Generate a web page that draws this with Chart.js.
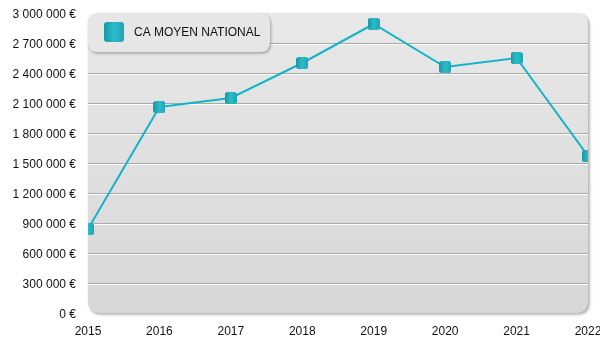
<!DOCTYPE html>
<html>
<head>
<meta charset="utf-8">
<script src="https://cdn.jsdelivr.net/npm/chart.js@4/dist/chart.umd.min.js"></script>
<style>
  html, body { margin: 0; padding: 0; background: #fff; }
  #wrap { width: 600px; height: 350px; }
</style>
</head>
<body>
<div id="wrap"><canvas id="caChart" width="600" height="350"></canvas></div>
<script>
var years = ['2015', '2016', '2017', '2018', '2019', '2020', '2021', '2022'];
var caMoyen = [840000, 2060000, 2150000, 2500000, 2890000, 2460000, 2550000, 1570000];
var seriesLabel = 'CA MOYEN NATIONAL';

const yMax = 3000000;
const yStep = 300000;

// "2 700 000 €"
function euros(v) {
    return String(Math.round(v)).replace(/\B(?=(\d{3})+(?!\d))/g, ' ') + ' €';
}

function roundRect(ctx, x, y, w, h, r) {
    ctx.beginPath();
    ctx.moveTo(x + r, y);
    ctx.lineTo(x + w - r, y);
    ctx.quadraticCurveTo(x + w, y, x + w, y + r);
    ctx.lineTo(x + w, y + h - r);
    ctx.quadraticCurveTo(x + w, y + h, x + w - r, y + h);
    ctx.lineTo(x + r, y + h);
    ctx.quadraticCurveTo(x, y + h, x, y + h - r);
    ctx.lineTo(x, y + r);
    ctx.quadraticCurveTo(x, y, x + r, y);
    ctx.closePath();
}

function tealFill(ctx, x, w) {
    var g = ctx.createLinearGradient(x, 0, x + w, 0);
    g.addColorStop(0, '#1797a6');
    g.addColorStop(0.5, '#2cbcc8');
    g.addColorStop(1, '#1ea5b2');
    return g;
}

// small rounded square used as point marker
function makeMarker(size) {
    var c = document.createElement('canvas');
    c.width = size; c.height = size;
    var ctx = c.getContext('2d');
    roundRect(ctx, 0, 0, size, size, 2.5);
    ctx.fillStyle = tealFill(ctx, 0, size);
    ctx.fill();
    return c;
}

// grey rounded panel behind the plot, with embossed grid lines
const panelPlugin = {
    id: 'panel',
    beforeDatasetsDraw(chart) {
        var ctx = chart.ctx;
        var a = chart.chartArea;
        var y = chart.scales.y;
        ctx.save();
        ctx.shadowColor = 'rgba(0,0,0,0.35)';
        ctx.shadowBlur = 3;
        ctx.shadowOffsetX = 1.5;
        ctx.shadowOffsetY = 1.5;
        roundRect(ctx, a.left, a.top, a.right - a.left, a.bottom - a.top, 12);
        var g = ctx.createLinearGradient(0, a.top, 0, a.bottom);
        g.addColorStop(0, '#e8e8e8');
        g.addColorStop(1, '#d7d7d7');
        ctx.fillStyle = g;
        ctx.fill();
        ctx.restore();

        ctx.save();
        y.ticks.forEach(function(t) {
            if (t.value <= y.min || t.value >= y.max) return;
            var py = Math.round(y.getPixelForValue(t.value));
            ctx.fillStyle = '#a9a9a9';
            ctx.fillRect(a.left, py, a.right - a.left, 1);
            ctx.fillStyle = '#ffffff';
            ctx.fillRect(a.left, py + 1, a.right - a.left, 1);
        });
        ctx.restore();
    },
    afterDraw(chart) {
        var ctx = chart.ctx;
        var a = chart.chartArea;
        var bx = a.left, by = a.top, bw = 182, bh = 39;
        ctx.save();
        ctx.shadowColor = 'rgba(0,0,0,0.3)';
        ctx.shadowBlur = 3;
        ctx.shadowOffsetX = 1;
        ctx.shadowOffsetY = 1.5;
        roundRect(ctx, bx, by, bw, bh, 10);
        ctx.fillStyle = '#e6e6e6';
        ctx.fill();
        ctx.restore();

        ctx.save();
        roundRect(ctx, bx + 16, by + 9, 20, 20, 3);
        ctx.fillStyle = tealFill(ctx, bx + 16, 20);
        ctx.fill();
        ctx.fillStyle = '#111';
        ctx.font = '12px "Liberation Sans", Arial, sans-serif';
        ctx.textBaseline = 'middle';
        ctx.fillText(chart.data.datasets[0].label, bx + 46, by + 20);
        ctx.restore();
    }
};

Chart.defaults.font.family = '"Liberation Sans", Arial, sans-serif';
Chart.defaults.font.size = 12;
Chart.defaults.color = '#111';

new Chart(document.getElementById('caChart'), {
    type: 'line',
    data: {
        labels: years,
        datasets: [{
            label: seriesLabel,
            data: caMoyen,
            borderColor: '#14b4c6',
            borderWidth: 2,
            pointStyle: makeMarker(12),
            pointRadius: 6,
            tension: 0,
            clip: 0
        }]
    },
    options: {
        responsive: false,
        animation: false,
        layout: { padding: { left: 0, top: 13, right: 12, bottom: 0 } },
        plugins: {
            legend: { display: false },
            tooltip: { enabled: false }
        },
        scales: {
            x: {
                grid: { display: false, drawTicks: false },
                border: { display: false },
                ticks: { padding: 11, maxRotation: 0, autoSkip: false },
                afterFit(scale) {
                    scale.height = 37;
                    scale.paddingLeft = 0;
                    scale.paddingRight = 0;
                }
            },
            y: {
                min: 0,
                max: yMax,
                grid: { display: false, drawTicks: false },
                border: { display: false },
                ticks: {
                    stepSize: yStep,
                    padding: 12,
                    labelOffset: 2,
                    callback: function(v) { return euros(v); }
                },
                afterFit(scale) {
                    scale.width = 88;
                    scale.paddingTop = 0;
                    scale.paddingBottom = 0;
                }
            }
        }
    },
    plugins: [panelPlugin]
});
</script>
</body>
</html>
